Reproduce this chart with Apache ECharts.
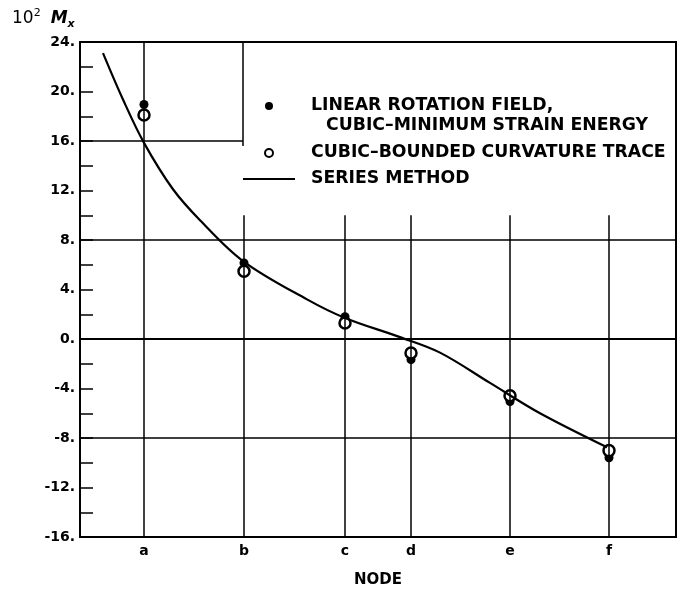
<!DOCTYPE html>
<html lang="en">
<head>
<meta charset="UTF-8">
<title>Mx by node</title>
<style>
    html, body { margin: 0; padding: 0; background: #fff; }
    #chart { width: 685px; height: 591px; }
</style>
</head>
<body>
<div id="chart"></div>
<script src="https://cdn.jsdelivr.net/npm/echarts@6/dist/echarts.min.js"></script>
<script>
    // nodes along the strip (plot units) and their labels
    const nodeNames = ['a', 'b', 'c', 'd', 'e', 'f'];
    const nodeX = [0.64, 1.64, 2.65, 3.31, 4.30, 5.29];

    // 10^2 Mx at each node
    const linearRotation = [18.95, 6.15, 1.8, -1.67, -5.05, -9.6];
    const cubicBounded = [18.1, 5.47, 1.29, -1.13, -4.58, -9.02];

    const seriesX = [0.23, 0.43, 0.64, 0.93, 1.20, 1.63, 2.27, 2.65, 3.20, 3.60, 4.10, 4.60, 5.27];
    const seriesY = [23.1, 19.35, 15.85, 12.1, 9.6, 6.3, 3.2, 1.7, 0.15, -1.1, -3.55, -6.0, -8.75];

    // grid rulings
    const gridRows = [8, 0, -8];
    const boxEdgeX = 1.63;   // left edge of the key box
    const boxBottomY = 10;   // node rulings stop under the key
    const yLabelStep = 4;

    const FONT = 'DejaVu Sans';
    const BLACK = '#000';

    const nameLinear = 'LINEAR ROTATION FIELD,';
    const nameLinear2 = 'CUBIC\u2013MINIMUM STRAIN ENERGY';
    const nameCubic = 'CUBIC\u2013BOUNDED CURVATURE TRACE';
    const nameSeries = 'SERIES METHOD';

    const rulings = [];
    nodeX.forEach(function (x, i) {
        rulings.push([{coord: [x, -16]}, {coord: [x, i === 0 ? 24 : boxBottomY]}]);
    });
    gridRows.forEach(function (y) {
        rulings.push([{coord: [0, y]}, {coord: [5.96, y]}]);
    });
    rulings.push([{coord: [0, 16]}, {coord: [boxEdgeX, 16]}]);
    rulings.push([{coord: [boxEdgeX, 24]}, {coord: [boxEdgeX, 15.6]}]);

    const chart = echarts.init(document.getElementById('chart'));
    chart.setOption({
        animation: false,
        backgroundColor: '#fff',
        title: {
            text: '{n|10}{s|2}  {m|M}{x|x}',
            left: 12,
            top: 8,
            padding: 0,
            textStyle: {
                fontWeight: 'normal',
                rich: {
                    n: {fontFamily: FONT, fontSize: 17, fontWeight: 'normal', color: BLACK, lineHeight: 22},
                    s: {fontFamily: FONT, fontSize: 11, fontWeight: 'normal', color: BLACK, verticalAlign: 'top'},
                    m: {fontFamily: FONT, fontSize: 17, fontWeight: 'bold', fontStyle: 'italic', color: BLACK},
                    x: {fontFamily: FONT, fontSize: 11, fontWeight: 'bold', fontStyle: 'italic', color: BLACK, verticalAlign: 'bottom'}
                }
            }
        },
        legend: {
            orient: 'vertical',
            left: 243,
            top: 96,
            padding: 0,
            itemGap: 0,
            itemWidth: 52,
            itemHeight: 8,
            selectedMode: false,
            textStyle: {fontFamily: FONT, fontWeight: 'bold', fontSize: 17.3, color: BLACK, lineHeight: 20, padding: [0, 0, 0, 11]},
            data: [
                {name: nameLinear, icon: 'circle'},
                {name: nameLinear2, icon: 'none', textStyle: {lineHeight: 20, padding: [0, 0, 0, 26]}},
                {name: nameCubic, icon: 'circle', textStyle: {lineHeight: 34}},
                {name: nameSeries, icon: 'path://M0,0L52,0L52,2L0,2Z', textStyle: {lineHeight: 18}}
            ]
        },
        grid: {
            left: 80, right: 9, top: 42, bottom: 54,
            show: true, borderColor: BLACK, borderWidth: 2,
            outerBoundsMode: 'none'
        },
        xAxis: {
            type: 'value',
            min: 0,
            max: 5.96,
            name: 'NODE',
            nameLocation: 'middle',
            nameGap: 36,
            nameTextStyle: {fontFamily: FONT, fontWeight: 'bold', fontSize: 15, color: BLACK},
            axisLine: {show: true, lineStyle: {color: BLACK, width: 2}},
            axisTick: {show: false},
            splitLine: {show: false},
            axisLabel: {
                customValues: nodeX,
                margin: 7,
                fontFamily: FONT, fontWeight: 'bold', fontSize: 14, color: BLACK,
                formatter: function (v) {
                    let best = 0;
                    nodeX.forEach(function (x, i) {
                        if (Math.abs(x - v) < Math.abs(nodeX[best] - v)) best = i;
                    });
                    return nodeNames[best];
                }
            }
        },
        yAxis: {
            type: 'value',
            min: -16,
            max: 24,
            interval: 2,
            axisLine: {show: true, lineStyle: {color: BLACK, width: 2}},
            axisTick: {show: true, inside: true, length: 13, lineStyle: {color: BLACK, width: 1.5}},
            splitLine: {show: false},
            axisLabel: {
                margin: 5,
                fontFamily: FONT, fontWeight: 'bold', fontSize: 14, color: BLACK,
                formatter: function (v) {
                    return v % yLabelStep === 0 ? v + '.' : '';
                }
            }
        },
        series: [
            {
                name: nameSeries,
                type: 'line',
                data: seriesX.map(function (x, i) { return [x, seriesY[i]]; }),
                smooth: 0.35,
                symbol: 'none',
                itemStyle: {color: BLACK},
                lineStyle: {color: BLACK, width: 2.2},
                silent: true,
                markLine: {
                    silent: true,
                    symbol: 'none',
                    label: {show: false},
                    lineStyle: {color: BLACK, width: 1.5, type: 'solid'},
                    data: rulings
                }
            },
            {
                name: nameLinear,
                type: 'scatter',
                data: nodeX.map(function (x, i) { return [x, linearRotation[i]]; }),
                symbol: 'circle',
                symbolSize: 9,
                itemStyle: {color: BLACK, opacity: 1},
                silent: true
            },
            {
                name: nameLinear2,
                type: 'scatter',
                data: []
            },
            {
                name: nameCubic,
                type: 'scatter',
                data: nodeX.map(function (x, i) { return [x, cubicBounded[i]]; }),
                symbol: 'circle',
                symbolSize: 11,
                itemStyle: {color: '#fff', borderColor: BLACK, borderWidth: 2.5, opacity: 1},
                silent: true
            }
        ]
    });
</script>
</body>
</html>
